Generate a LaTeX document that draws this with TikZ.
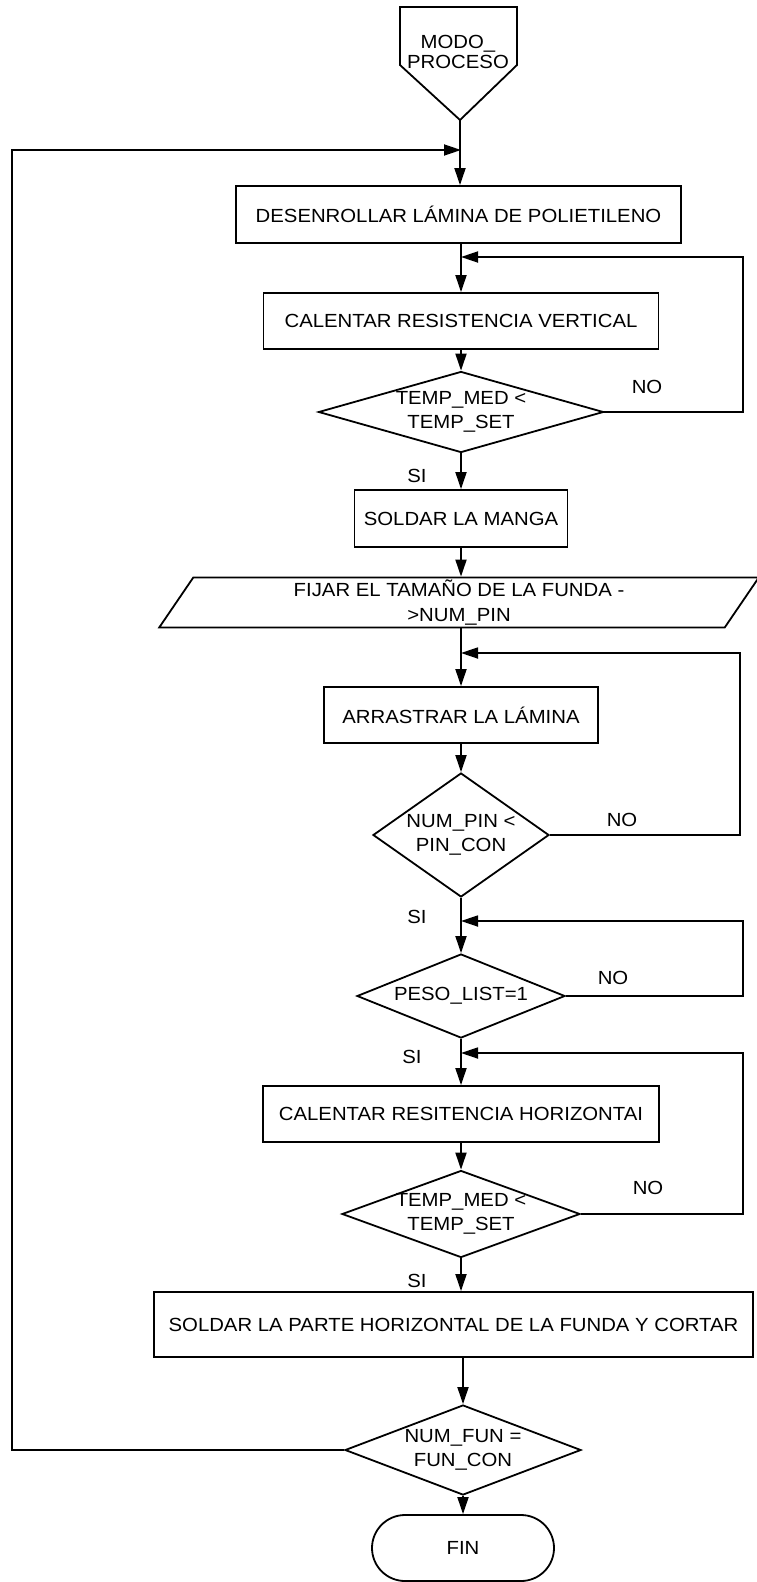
\documentclass[tikz,border=0pt]{standalone}
\usepackage{fontspec}
\setmainfont{Liberation Sans}[FakeStretch=1.07]
\usetikzlibrary{shapes.geometric,shapes.misc,arrows.meta}
\begin{document}
\begin{tikzpicture}[x=1pt,y=-1pt,
  line width=1.8pt,
  every node/.style={font=\fontsize{19}{24}\selectfont, inner sep=0pt},
  procbox/.style={draw, rectangle, minimum height=56},
  decision/.style={draw, diamond},
  flow/.style={-{Triangle[length=17pt,width=11pt]}},
  lbl/.style={anchor=center}
]
% page
\fill[white] (0,0) rectangle (756,1582);
\useasboundingbox (0,0) rectangle (756,1582);

% off-page connector at the top
\draw (400,7) -- (517,7) -- (517,65) -- (460,120) -- (400,65) -- cycle;
\node[align=center, font=\fontsize{19}{20}\selectfont] (start) at (458,52) {MODO\_\\PROCESO};
\coordinate (startpt) at (460,120);

% process chain
\node[procbox, minimum width=445, minimum height=57] (b1) at (458.5,214.5) {DESENROLLAR LÁMINA DE POLIETILENO};
\node[procbox, minimum width=395] (b2) at (461,321) {CALENTAR RESISTENCIA VERTICAL};
\node[decision, minimum width=285, minimum height=81] (d1) at (461,412) {};
\node[align=center] (d1t) at (d1) {TEMP\_MED <\\TEMP\_SET};
\node[procbox, minimum width=213, minimum height=57] (b3) at (461,518.5) {SOLDAR LA MANGA};
\node[draw, trapezium, trapezium left angle=65, trapezium right angle=115,
      trapezium stretches=true, minimum width=602, minimum height=50,
      align=center, font=\fontsize{19}{25}\selectfont] (par) at (459,602.5)
      {FIJAR EL TAMAÑO DE LA FUNDA -\\>NUM\_PIN};
\node[procbox, minimum width=274] (b4) at (461,715) {ARRASTRAR LA LÁMINA};
\node[decision, minimum width=176, minimum height=124] (d2) at (461,835) {};
\node[align=center] (d2t) at (d2) {NUM\_PIN <\\PIN\_CON};
\node[decision, minimum width=208, minimum height=84] (d3) at (461,996) {};
\node (d3t) at (d3) {PESO\_LIST=1};
\node[procbox, minimum width=396] (b5) at (461,1114) {CALENTAR RESITENCIA HORIZONTAI};
\node[decision, minimum width=238, minimum height=87] (d4) at (461,1214) {};
\node[align=center] (d4t) at (d4) {TEMP\_MED <\\TEMP\_SET};
\node[procbox, minimum width=599, minimum height=65] (b6) at (453.5,1324.5) {SOLDAR LA PARTE HORIZONTAL DE LA FUNDA Y CORTAR};
\node[decision, minimum width=236, minimum height=90] (d5) at (463,1450) {};
\node[align=center] (d5t) at (d5) {NUM\_FUN =\\FUN\_CON};
\node[draw, rounded rectangle, minimum width=182, minimum height=66] (fin) at (463,1548) {FIN};

% junction points on the main line
\coordinate (j0) at (461,150);
\coordinate (j1) at (461,257);
\coordinate (j2) at (461,653);
\coordinate (j3) at (461,921);
\coordinate (j4) at (461,1053);
% corners of the return loops
\coordinate (r1) at (743,257);
\coordinate (r2) at (740,653);
\coordinate (r3) at (743,921);
\coordinate (r4) at (743,1053);
\coordinate (l0) at (12,150);

% main line
\draw[flow] (startpt) -- (startpt |- b1.north);
\draw[flow] (b1.south -| b2) -- (b2.north);
\draw[flow] (b2.south) -- (d1.north);
\draw[flow] (d1.south) -- (b3.north);
\draw[flow] (b3.south) -- (b3.south |- par.north);
\draw[flow] (par.south -| b4) -- (b4.north);
\draw[flow] (b4.south) -- (d2.north);
\draw[flow] (d2.south) -- (d3.north);
\draw[flow] (d3.south) -- (b5.north);
\draw[flow] (b5.south) -- (d4.north);
\draw[flow] (d4.south) -- (d4.south |- b6.north);
\draw[flow] (b6.south -| d5) -- (d5.north);
\draw[flow] (d5.south) -- (fin.north);

% return loops
\draw[flow] (d1.east) -| (r1) -- (j1);
\draw[flow] (d2.east) -| (r2) -- (j2);
\draw[flow] (d3.east) -| (r3) -- (j3);
\draw[flow] (d4.east) -| (r4) -- (j4);
\draw[flow] (d5.west) -| (l0) -- (j0);

% branch labels
\node[lbl] (no1) at (647,387) {NO};
\node[lbl] (no2) at (622,820) {NO};
\node[lbl] (no3) at (613,978) {NO};
\node[lbl] (no4) at (648,1188) {NO};
\node[lbl] (si1) at (417,476) {SI};
\node[lbl] (si2) at (417,917) {SI};
\node[lbl] (si3) at (412,1057) {SI};
\node[lbl] (si4) at (417,1281) {SI};
\end{tikzpicture}
\end{document}
